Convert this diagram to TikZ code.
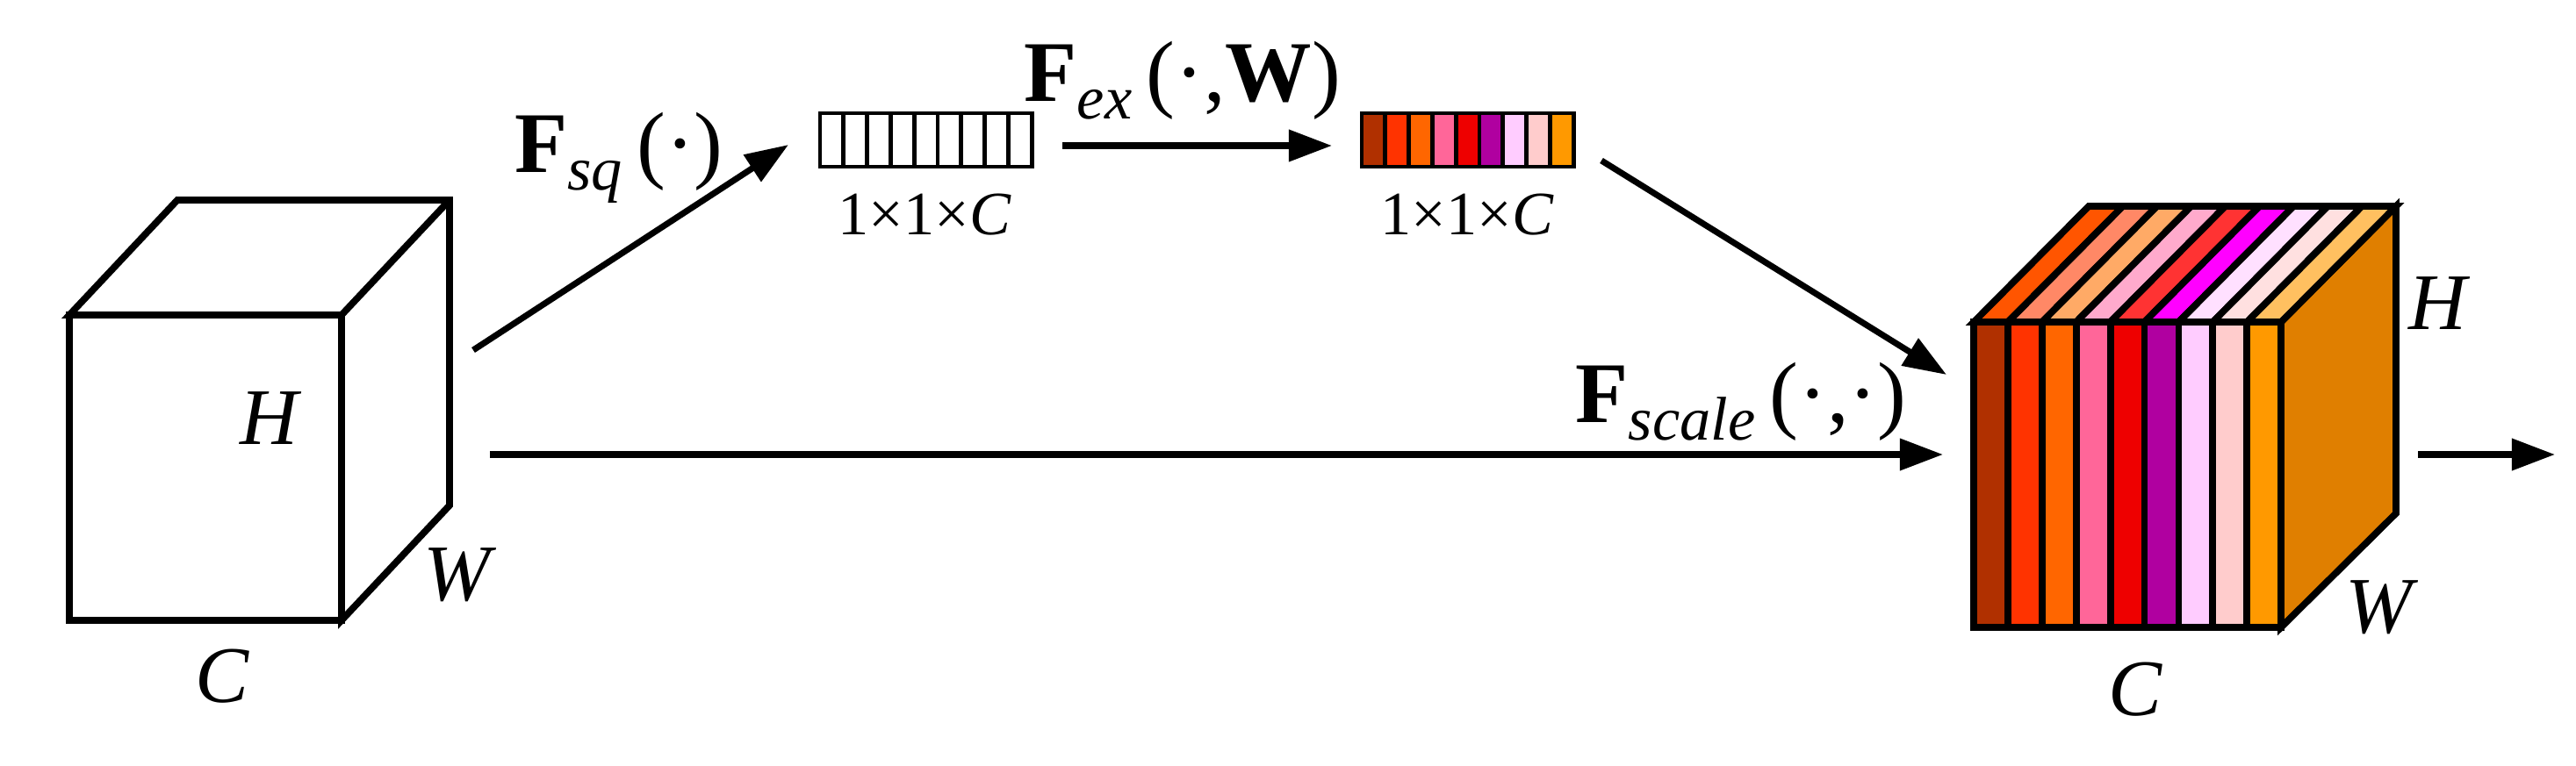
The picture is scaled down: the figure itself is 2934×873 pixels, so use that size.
\documentclass[tikz,border=0pt]{standalone}
\usepackage{fontspec}
\setmainfont{Liberation Serif}
\usetikzlibrary{positioning,arrows.meta}
\definecolor{sideorange}{HTML}{E07F00}
\newcommand{\ftxt}[2]{\textbf{F}\raisebox{-0.45ex}{\textit{\fontsize{20}{22}\selectfont #1}}\,(#2)}
\begin{document}
\begin{tikzpicture}%
        [x=0.01cm, y=-0.01cm,
        edge/.style={black, line width=2.2pt, line join=miter},
        conn/.style={black, line width=2pt, -{Triangle[length=14pt,width=10pt]}},
        cell/.style={draw=black, line width=1.4pt},
        lab/.style={font=\fontsize{26}{28}\selectfont, inner sep=0pt},
        flab/.style={font=\fontsize{28}{30}\selectfont, inner sep=0pt},
        small/.style={font=\fontsize{20}{22}\selectfont, inner sep=0pt}]
    \useasboundingbox (0,0) rectangle (2934,873);
    %% input cube
    \coordinate (inA) at (79,359);
    \coordinate (inB) at (389,707);
    \draw[edge, fill=white] (79,359) -- (202,228) -- (512,228) -- (512,576) -- (389,707) -- (389,359) -- cycle;
    \draw[edge] (389,359) -- (512,228);
    \draw[edge] (inA) rectangle (inB);
    \node[lab] (inH) at (309,477) {\textit{H}};
    \node[lab] (inW) at (524,655) {\textit{W}};
    \node[lab] (inC) at (253,771) {\textit{C}};
    %% squeezed vector
    \foreach \i in {0,...,8}
        \draw[cell, fill=white] ({934+\i*26.8},129) rectangle ({934+(\i+1)*26.8},190);
    \coordinate (sqW) at (898,165);
    \coordinate (sqE) at (1210,166);
    \node[small] (sqlab) at (1053,245) {1×1×\textit{C}};
    %% excited vector
    \foreach \c [count=\i from 0] in {B03000,FF3300,FF6600,FF6699,EE0000,B000A0,FFCCFF,FFCCCC,FF9900}{
        \definecolor{cellcol}{HTML}{\c}
        \draw[cell, fill=cellcol] ({1551+\i*26.8},129) rectangle ({1551+(\i+1)*26.8},190);
    }
    \coordinate (exW) at (1517,166);
    \coordinate (exE) at (1824,183);
    \node[small] (exlab) at (1671,245) {1×1×\textit{C}};
    %% output cube
    \draw[edge, fill=sideorange] (2598,367) -- (2729,235) -- (2729,585) -- (2598,715) -- cycle;
    \foreach \c [count=\i from 0] in {FF5500,FF8866,FFAA66,FFAACC,FF3333,FF00FF,FFE0FF,FFE0E0,FFC060}{
        \definecolor{cellcol}{HTML}{\c}
        \draw[edge, fill=cellcol] ({2248+\i*38.9},367) -- ({2379+\i*38.9},235) -- ({2379+(\i+1)*38.9},235) -- ({2248+(\i+1)*38.9},367) -- cycle;
    }
    \foreach \c [count=\i from 0] in {B03000,FF3300,FF6600,FF6699,EE0000,B000A0,FFCCFF,FFCCCC,FF9900}{
        \definecolor{cellcol}{HTML}{\c}
        \draw[edge, fill=cellcol] ({2248+\i*38.9},367) rectangle ({2248+(\i+1)*38.9},715);
    }
    \coordinate (outW) at (2217,427);
    \coordinate (outM) at (2213,518);
    \coordinate (outE) at (2754,518);
    \coordinate (outEnd) at (2910,518);
    \coordinate (inE) at (558,518);
    \coordinate (inT) at (539,399);
    \node[lab] (outH) at (2779,346) {\textit{H}};
    \node[lab] (outW2) at (2713,692) {\textit{W}};
    \node[lab] (outC) at (2432,786) {\textit{C}};
    %% connectors
    \draw[conn] (inT) -- (sqW);
    \draw[conn] (sqE) -- (exW);
    \draw[conn] (exE) -- (outW);
    \draw[conn] (inE) -- (outM);
    \draw[conn] (outE) -- (outEnd);
    \node[flab] (fsq) at (705,180) {\ftxt{sq}{·}};
    \node[flab] (fex) at (1347,92) {\ftxt{ex}{·,\textbf{W}}};
    \node[flab] (fsc) at (1983,458) {\ftxt{scale}{·,·}};
\end{tikzpicture}
\end{document}
